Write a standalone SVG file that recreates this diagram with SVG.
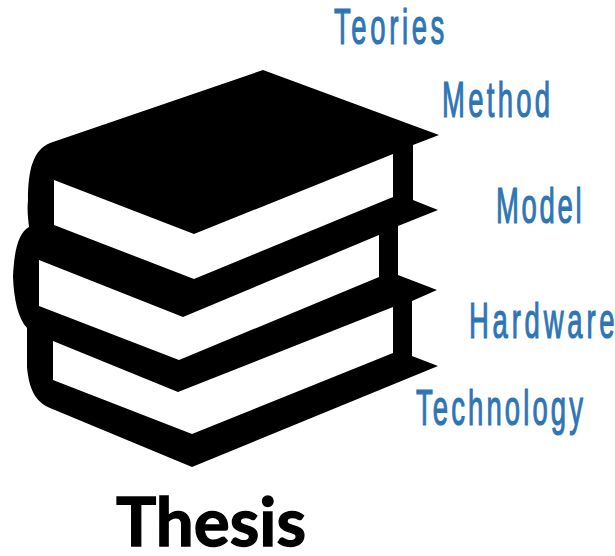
<svg xmlns="http://www.w3.org/2000/svg" width="615" height="556" viewBox="0 0 615 556">
<style>
.l{font-family:"Liberation Sans",Arial,sans-serif;font-size:49px;fill:#2e75b6;stroke:#2e75b6;stroke-width:1.2px}
.t{font-family:"Lato","Open Sans",sans-serif;font-weight:700;font-size:67px;fill:#000;stroke:#000;stroke-width:1.3px}
</style>
<rect width="615" height="556" fill="#fff"/>
<g id="books">
<path fill="#000" fill-rule="evenodd" d="M263 70L439 135L413 145V200L438 210L398 226V275L437 290L412 301V356L438 366L192 467L50 408C36 402 29 390 27 367V328C18 318 14 300 13 277C14 252 18 233 29 227C28 218 27 210 28 200C28 170 33 150 50 143Z
M54 180L194 234L393 154V197L194 279L54 225Z
M39 260L183 317L379 235V277L179 360L39 306Z
M53 341L178 392L393 307V353L192 434L53 380Z"/>
</g>
<g id="teories"><text class="l" transform="translate(334 43.5) scale(.56 1)" textLength="197" lengthAdjust="spacing">Teories</text></g>
<g id="method"><text class="l" transform="translate(442 116.5) scale(.56 1)" textLength="193" lengthAdjust="spacing">Method</text></g>
<g id="model"><text class="l" transform="translate(496 222.5) scale(.56 1)" textLength="153" lengthAdjust="spacing">Model</text></g>
<g id="hardware"><text class="l" transform="translate(469 337.5) scale(.56 1)" textLength="260" lengthAdjust="spacing">Hardware</text></g>
<g id="technology"><text class="l" transform="translate(416 424.5) scale(.56 1)" textLength="298" lengthAdjust="spacing">Technology</text></g>
<g id="thesis"><text class="t" x="116" y="546" textLength="190" lengthAdjust="spacingAndGlyphs">Thesis</text></g>
<g id="connectors"/>
</svg>
